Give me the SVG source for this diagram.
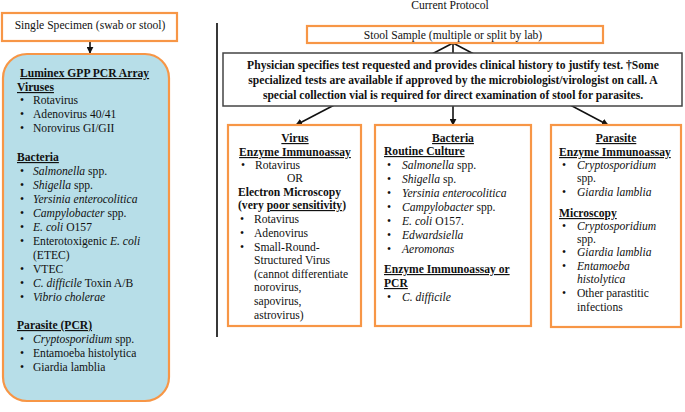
<svg xmlns="http://www.w3.org/2000/svg" width="685" height="412" viewBox="0 0 685 412">
<defs>
<style>
text{font-family:"Liberation Serif","Times New Roman","DejaVu Serif",serif;font-size:11.6px;fill:#111}
.b{font-weight:bold}
.u{text-decoration:underline}
.i{font-style:italic}
.c{text-anchor:middle}
.ob{fill:#fff;stroke:#f79646;stroke-width:2.2}
.ln{stroke:#111;stroke-width:1.6;fill:none}
</style>
<marker id="ah" viewBox="0 0 10 10" refX="9" refY="5" markerWidth="7" markerHeight="7" markerUnits="userSpaceOnUse" orient="auto"><path d="M0,0 L10,5 L0,10 z" fill="#111"/></marker>
</defs>
<rect width="685" height="412" fill="#fff"/>
<text class="c" x="450" y="9">Current Protocol</text>
<line x1="217" y1="23" x2="217" y2="337" stroke="#222" stroke-width="1.8"/>

<g id="connectors">
<line class="ln" x1="90" y1="41" x2="90" y2="53" marker-end="url(#ah)"/>
<line class="ln" x1="453" y1="43" x2="296" y2="125" marker-end="url(#ah)"/>
<line class="ln" x1="453" y1="43" x2="453" y2="125" marker-end="url(#ah)"/>
<line class="ln" x1="453" y1="43" x2="608" y2="125" marker-end="url(#ah)"/>
</g>

<g id="single-specimen">
<rect class="ob" x="2" y="13" width="175" height="28"/>
<text class="c" x="90" y="29">Single Specimen (swab or stool)</text>
</g>

<g id="luminex">
<rect x="3" y="54" width="166" height="347" rx="24" fill="#b7dee8" stroke="#f79646" stroke-width="2.2"/>
<text class="b u" x="20" y="77">Luminex GPP PCR Array</text>
<text class="b u" x="17" y="91">Viruses</text>
<text x="20" y="104">•</text><text x="33" y="104">Rotavirus</text>
<text x="20" y="118">•</text><text x="33" y="118">Adenovirus 40/41</text>
<text x="20" y="132">•</text><text x="33" y="132">Norovirus GI/GII</text>
<text class="b u" x="17" y="161">Bacteria</text>
<text x="20" y="175">•</text><text x="33" y="175"><tspan class="i">Salmonella</tspan> spp.</text>
<text x="20" y="189">•</text><text x="33" y="189"><tspan class="i">Shigella</tspan> spp.</text>
<text x="20" y="203">•</text><text class="i" x="33" y="203">Yersinia enterocolitica</text>
<text x="20" y="217">•</text><text x="33" y="217"><tspan class="i">Campylobacter</tspan> spp.</text>
<text x="20" y="231">•</text><text x="33" y="231"><tspan class="i">E. coli</tspan> O157</text>
<text x="20" y="245">•</text><text x="33" y="245">Enterotoxigenic <tspan class="i">E. coli</tspan></text>
<text x="33" y="259">(ETEC)</text>
<text x="20" y="273">•</text><text x="33" y="273">VTEC</text>
<text x="20" y="287">•</text><text x="33" y="287"><tspan class="i">C. difficile</tspan> Toxin A/B</text>
<text x="20" y="301">•</text><text class="i" x="33" y="301">Vibrio cholerae</text>
<text class="b u" x="17" y="329">Parasite (PCR)</text>
<text x="20" y="343">•</text><text x="33" y="343"><tspan class="i">Cryptosporidium</tspan> spp.</text>
<text x="20" y="357">•</text><text x="33" y="357">Entamoeba histolytica</text>
<text x="20" y="371">•</text><text x="33" y="371">Giardia lamblia</text>
</g>

<g id="stool-sample">
<rect class="ob" x="307" y="26" width="296" height="17"/>
<text class="c" x="453" y="38.5">Stool Sample (multiple or split by lab)</text>
</g>

<g id="physician">
<rect x="223" y="53" width="459" height="53" fill="#fff" stroke="#444" stroke-width="1.5"/>
<text class="b c" x="453" y="69" font-size="11.4">Physician specifies test requested and provides clinical history to justify test.  †Some</text>
<text class="b c" x="453" y="84" font-size="11.4">specialized tests are available if approved by the microbiologist/virologist on call.  A</text>
<text class="b c" x="453" y="99" font-size="11.4">special collection vial is required for direct examination of stool for parasites.</text>
</g>

<g id="virus">
<rect class="ob" x="228" y="125" width="133" height="201"/>
<text class="b u c" x="295" y="142">Virus</text>
<text class="b u c" x="295" y="156">Enzyme Immunoassay</text>
<text x="241" y="169">•</text><text x="255" y="169">Rotavirus</text>
<text class="c" x="295" y="182">OR</text>
<text class="b" x="238" y="196">Electron Microscopy</text>
<text class="b" x="238" y="209">(very <tspan class="u">poor sensitivity</tspan>)</text>
<text x="240" y="223">•</text><text x="254" y="223">Rotavirus</text>
<text x="240" y="237">•</text><text x="254" y="237">Adenovirus</text>
<text x="240" y="251">•</text><text x="254" y="251">Small-Round-</text>
<text x="254" y="264">Structured Virus</text>
<text x="254" y="278">(cannot differentiate</text>
<text x="254" y="291">norovirus,</text>
<text x="254" y="305">sapovirus,</text>
<text x="254" y="319">astrovirus)</text>
</g>

<g id="bacteria">
<rect class="ob" x="375" y="125" width="156" height="201"/>
<text class="b u c" x="453" y="142">Bacteria</text>
<text class="b u" x="384" y="155">Routine Culture</text>
<text x="387" y="169">•</text><text x="402" y="169"><tspan class="i">Salmonella</tspan> spp.</text>
<text x="387" y="183">•</text><text x="402" y="183"><tspan class="i">Shigella</tspan> sp.</text>
<text x="387" y="197">•</text><text class="i" x="402" y="197">Yersinia enterocolitica</text>
<text x="387" y="211">•</text><text x="402" y="211"><tspan class="i">Campylobacter</tspan> spp.</text>
<text x="387" y="225">•</text><text x="402" y="225"><tspan class="i">E. coli</tspan> O157.</text>
<text x="387" y="239">•</text><text class="i" x="402" y="239">Edwardsiella</text>
<text x="387" y="253">•</text><text class="i" x="402" y="253">Aeromonas</text>
<text class="b u" x="384" y="273">Enzyme Immunoassay or</text>
<text class="b u" x="384" y="287">PCR</text>
<text x="387" y="301">•</text><text class="i" x="402" y="301">C. difficile</text>
</g>

<g id="parasite">
<rect class="ob" x="551" y="125" width="130" height="202"/>
<text class="b u c" x="616" y="142">Parasite</text>
<text class="b u" x="559" y="156">Enzyme Immunoassay</text>
<text x="562" y="169">•</text><text class="i" x="577" y="169">Cryptosporidium</text>
<text x="577" y="182">spp.</text>
<text x="562" y="196">•</text><text class="i" x="577" y="196">Giardia lamblia</text>
<text class="b u" x="559" y="217">Microscopy</text>
<text x="562" y="230">•</text><text class="i" x="577" y="230">Cryptosporidium</text>
<text x="577" y="243">spp.</text>
<text x="562" y="256">•</text><text class="i" x="577" y="256">Giardia lamblia</text>
<text x="562" y="270">•</text><text class="i" x="577" y="270">Entamoeba</text>
<text class="i" x="577" y="283">histolytica</text>
<text x="562" y="297">•</text><text x="577" y="297">Other parastitic</text>
<text x="577" y="311">infections</text>
</g>
</svg>
